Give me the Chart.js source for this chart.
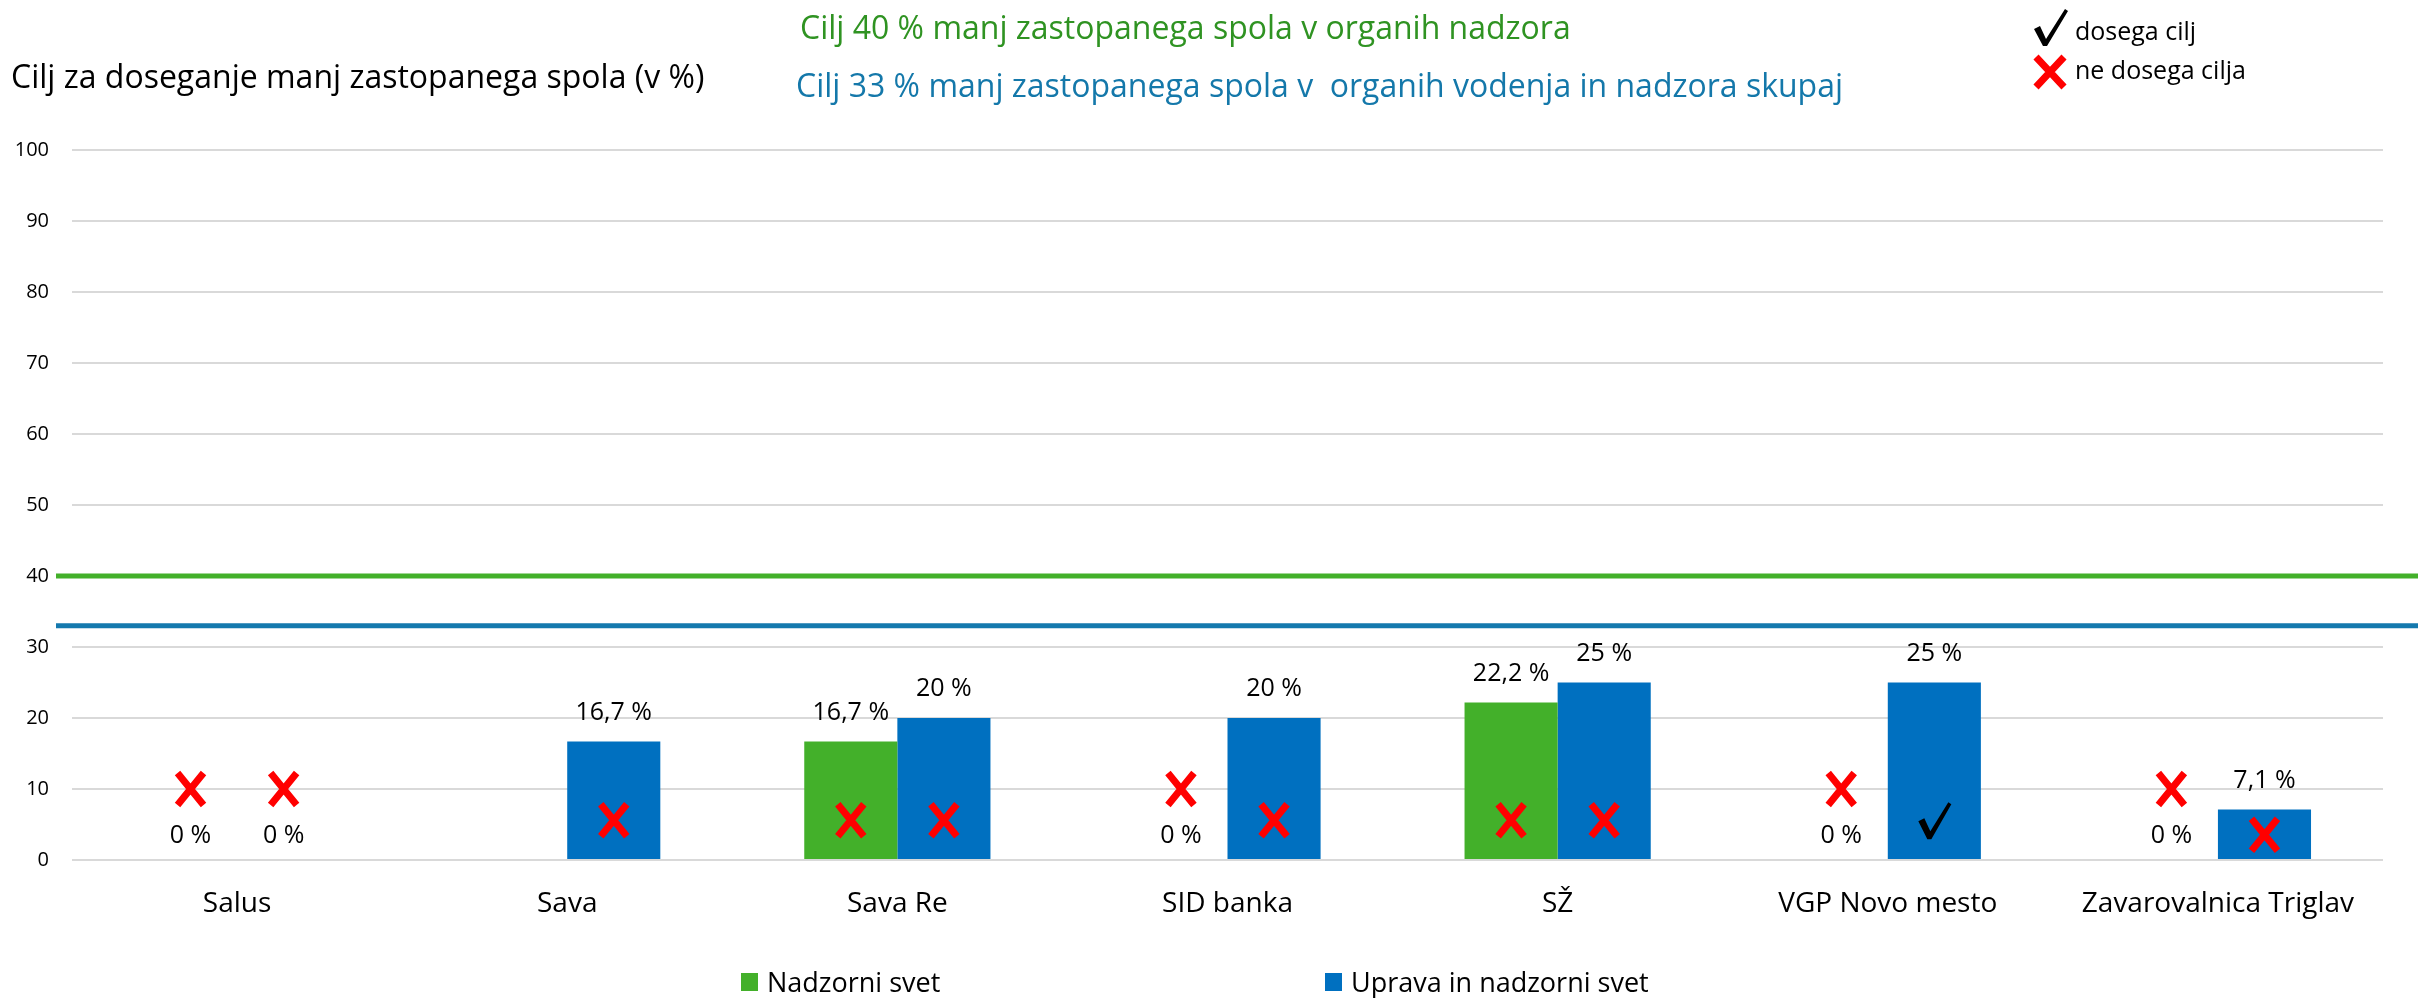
<!DOCTYPE html>
<html lang="sl">
<head>
<meta charset="utf-8">
<title>Cilj za doseganje manj zastopanega spola</title>
<script src="https://cdn.jsdelivr.net/npm/chart.js@4.4.1/dist/chart.umd.min.js"></script>
<style>
    body { margin: 0; background: #fff; font-family: "Open Sans", sans-serif; color: #000; }
    #wrap { position: relative; width: 2418px; height: 998px; }
    #chart { position: absolute; left: 0; top: 0; }
    .txt { position: absolute; white-space: pre; line-height: 1; }
    .legend-item { position: absolute; display: flex; align-items: center; font-size: 27px; line-height: 1; white-space: pre; }
    .legend-item span.box { display: inline-block; width: 17px; height: 18px; margin-right: 9px; }
    svg { position: absolute; }
</style>
</head>
<body>
<div id="wrap">
    <canvas id="chart" width="2418" height="998"></canvas>

    <div class="txt" style="left:11px; top:60px; font-size:32px;">Cilj za doseganje manj zastopanega spola (v %)</div>
    <div class="txt" style="left:800px; top:11px; font-size:32px; color:#2F9322;">Cilj 40 % manj zastopanega spola v organih nadzora</div>
    <div class="txt" style="left:796px; top:69px; font-size:32px; color:#1478AA;">Cilj 33 % manj zastopanega spola v  organih vodenja in nadzora skupaj</div>

    <!-- legenda zgoraj desno -->
    <svg style="left:2031px; top:7px;" width="40" height="40" viewBox="0 0 40 40">
        <path d="M3 22 L9 19 L15 32 L34 2 L37 4 L16 39 L12 39 Z" fill="#000"/>
    </svg>
    <div class="txt" style="left:2075px; top:18px; font-size:25px;">dosega cilj</div>
    <svg style="left:2032px; top:54px;" width="36" height="36" viewBox="0 0 36 36">
        <path d="M4 3 L32 33 M32 3 L4 33" stroke="#FF0000" stroke-width="7" fill="none"/>
    </svg>
    <div class="txt" style="left:2075px; top:57px; font-size:25px;">ne dosega cilja</div>

    <div id="legend"></div>
</div>

<script>
    // kategorije (družbe)
    const categories = ['Salus', 'Sava', 'Sava Re', 'SID banka', 'SŽ', 'VGP Novo mesto', 'Zavarovalnica Triglav'];

    // delež manj zastopanega spola (v %)
    const nadzorniSvet = [0, null, 16.7, 0, 22.2, 0, 0];
    const upravaInNadzorni = [0, 16.7, 20, 20, 25, 25, 7.1];

    // doseganje cilja: 'x' = ne dosega, 'check' = dosega
    const nadzorniStatus = ['x', null, 'x', 'x', 'x', 'x', 'x'];
    const upravaStatus = ['x', 'x', 'x', 'x', 'x', 'check', 'x'];

    // ciljne vrednosti
    const targetNadzorni = 40;
    const targetSkupaj = 33;

    // os y
    const yMin = 0;
    const yMax = 100;
    const yStep = 10;

    const GREEN = '#43B02A';
    const BLUE = '#0070C0';
    const FONT = '"Open Sans", sans-serif';

    const fmt = v => String(v).replace('.', ',') + ' %';

    function drawCross(ctx, x, y) {
        ctx.save();
        ctx.strokeStyle = '#FF0000';
        ctx.lineWidth = 7;
        ctx.beginPath();
        ctx.moveTo(x - 13, y - 16);
        ctx.lineTo(x + 13, y + 16);
        ctx.moveTo(x + 13, y - 16);
        ctx.lineTo(x - 13, y + 16);
        ctx.stroke();
        ctx.restore();
    }

    function drawCheck(ctx, x, y) {
        ctx.save();
        ctx.fillStyle = '#000';
        ctx.beginPath();
        ctx.moveTo(x - 16, y + 1);
        ctx.lineTo(x - 10, y - 2);
        ctx.lineTo(x - 4, y + 11);
        ctx.lineTo(x + 14, y - 18);
        ctx.lineTo(x + 17, y - 16);
        ctx.lineTo(x - 3, y + 19);
        ctx.lineTo(x - 7, y + 19);
        ctx.closePath();
        ctx.fill();
        ctx.restore();
    }

    // ciljne črte, oznake vrednosti in znaki doseganja cilja
    const annotations = {
        id: 'annotations',
        afterDatasetsDraw(chart) {
            const ctx = chart.ctx;
            const yScale = chart.scales.y;

            // ciljne črte (čez celotno širino)
            [[targetNadzorni, GREEN], [targetSkupaj, '#1479AE']].forEach(([v, c]) => {
                const py = yScale.getPixelForValue(v);
                ctx.save();
                ctx.strokeStyle = c;
                ctx.lineWidth = 5;
                ctx.beginPath();
                ctx.moveTo(56, py);
                ctx.lineTo(chart.width, py);
                ctx.stroke();
                ctx.restore();
            });

            chart.data.datasets.forEach((ds, i) => {
                const meta = chart.getDatasetMeta(i);
                meta.data.forEach((bar, j) => {
                    const v = ds.data[j];
                    if (v === null) return;

                    ctx.save();
                    ctx.fillStyle = '#000';
                    ctx.font = '25px ' + FONT;
                    ctx.textAlign = 'center';
                    ctx.textBaseline = 'middle';
                    const ly = v > 0 ? bar.y - 29 : yScale.getPixelForValue(3.4);
                    ctx.fillText(fmt(v), bar.x, ly);
                    ctx.restore();

                    const st = ds.status[j];
                    if (!st) return;
                    const my = v > 0
                        ? yScale.getPixelForValue(Math.min(v / 2, 5.6))
                        : yScale.getPixelForValue(10);
                    if (st === 'check') drawCheck(ctx, bar.x, my);
                    else drawCross(ctx, bar.x, my);
                });
            });
        }
    };

    const chart = new Chart(document.getElementById('chart'), {
        type: 'bar',
        data: {
            labels: categories,
            datasets: [
                {
                    label: 'Nadzorni svet',
                    data: nadzorniSvet,
                    status: nadzorniStatus,
                    backgroundColor: GREEN,
                    borderWidth: 0
                },
                {
                    label: 'Uprava in nadzorni svet',
                    data: upravaInNadzorni,
                    status: upravaStatus,
                    backgroundColor: BLUE,
                    borderWidth: 0
                }
            ]
        },
        options: {
            responsive: false,
            animation: false,
            categoryPercentage: 0.564,
            barPercentage: 1.0,
            layout: {
                padding: { top: 150, right: 35, bottom: 58, left: 0 }
            },
            plugins: {
                legend: { display: false },
                tooltip: { enabled: false }
            },
            scales: {
                x: {
                    grid: { display: false, drawTicks: false },
                    border: { display: false },
                    ticks: {
                        color: '#000',
                        padding: 27,
                        font: { family: FONT, size: 28 }
                    },
                    afterFit(scale) { scale.height = 80; }
                },
                y: {
                    min: yMin,
                    max: yMax,
                    grid: { color: '#D9D9D9', lineWidth: 2, drawTicks: false },
                    border: { display: false },
                    ticks: {
                        stepSize: yStep,
                        color: '#000',
                        padding: 23,
                        font: { family: FONT, size: 20 }
                    },
                    afterFit(scale) { scale.width = 72; }
                }
            }
        },
        plugins: [annotations]
    });

    // legenda spodaj
    const legendPos = [741, 1325];
    const legendEl = document.getElementById('legend');
    chart.data.datasets.forEach((ds, i) => {
        const item = document.createElement('div');
        item.className = 'legend-item';
        item.style.left = legendPos[i] + 'px';
        item.style.top = '968px';
        item.innerHTML = '<span class="box" style="background:' + ds.backgroundColor + '"></span>' + ds.label;
        legendEl.appendChild(item);
    });
</script>
</body>
</html>
